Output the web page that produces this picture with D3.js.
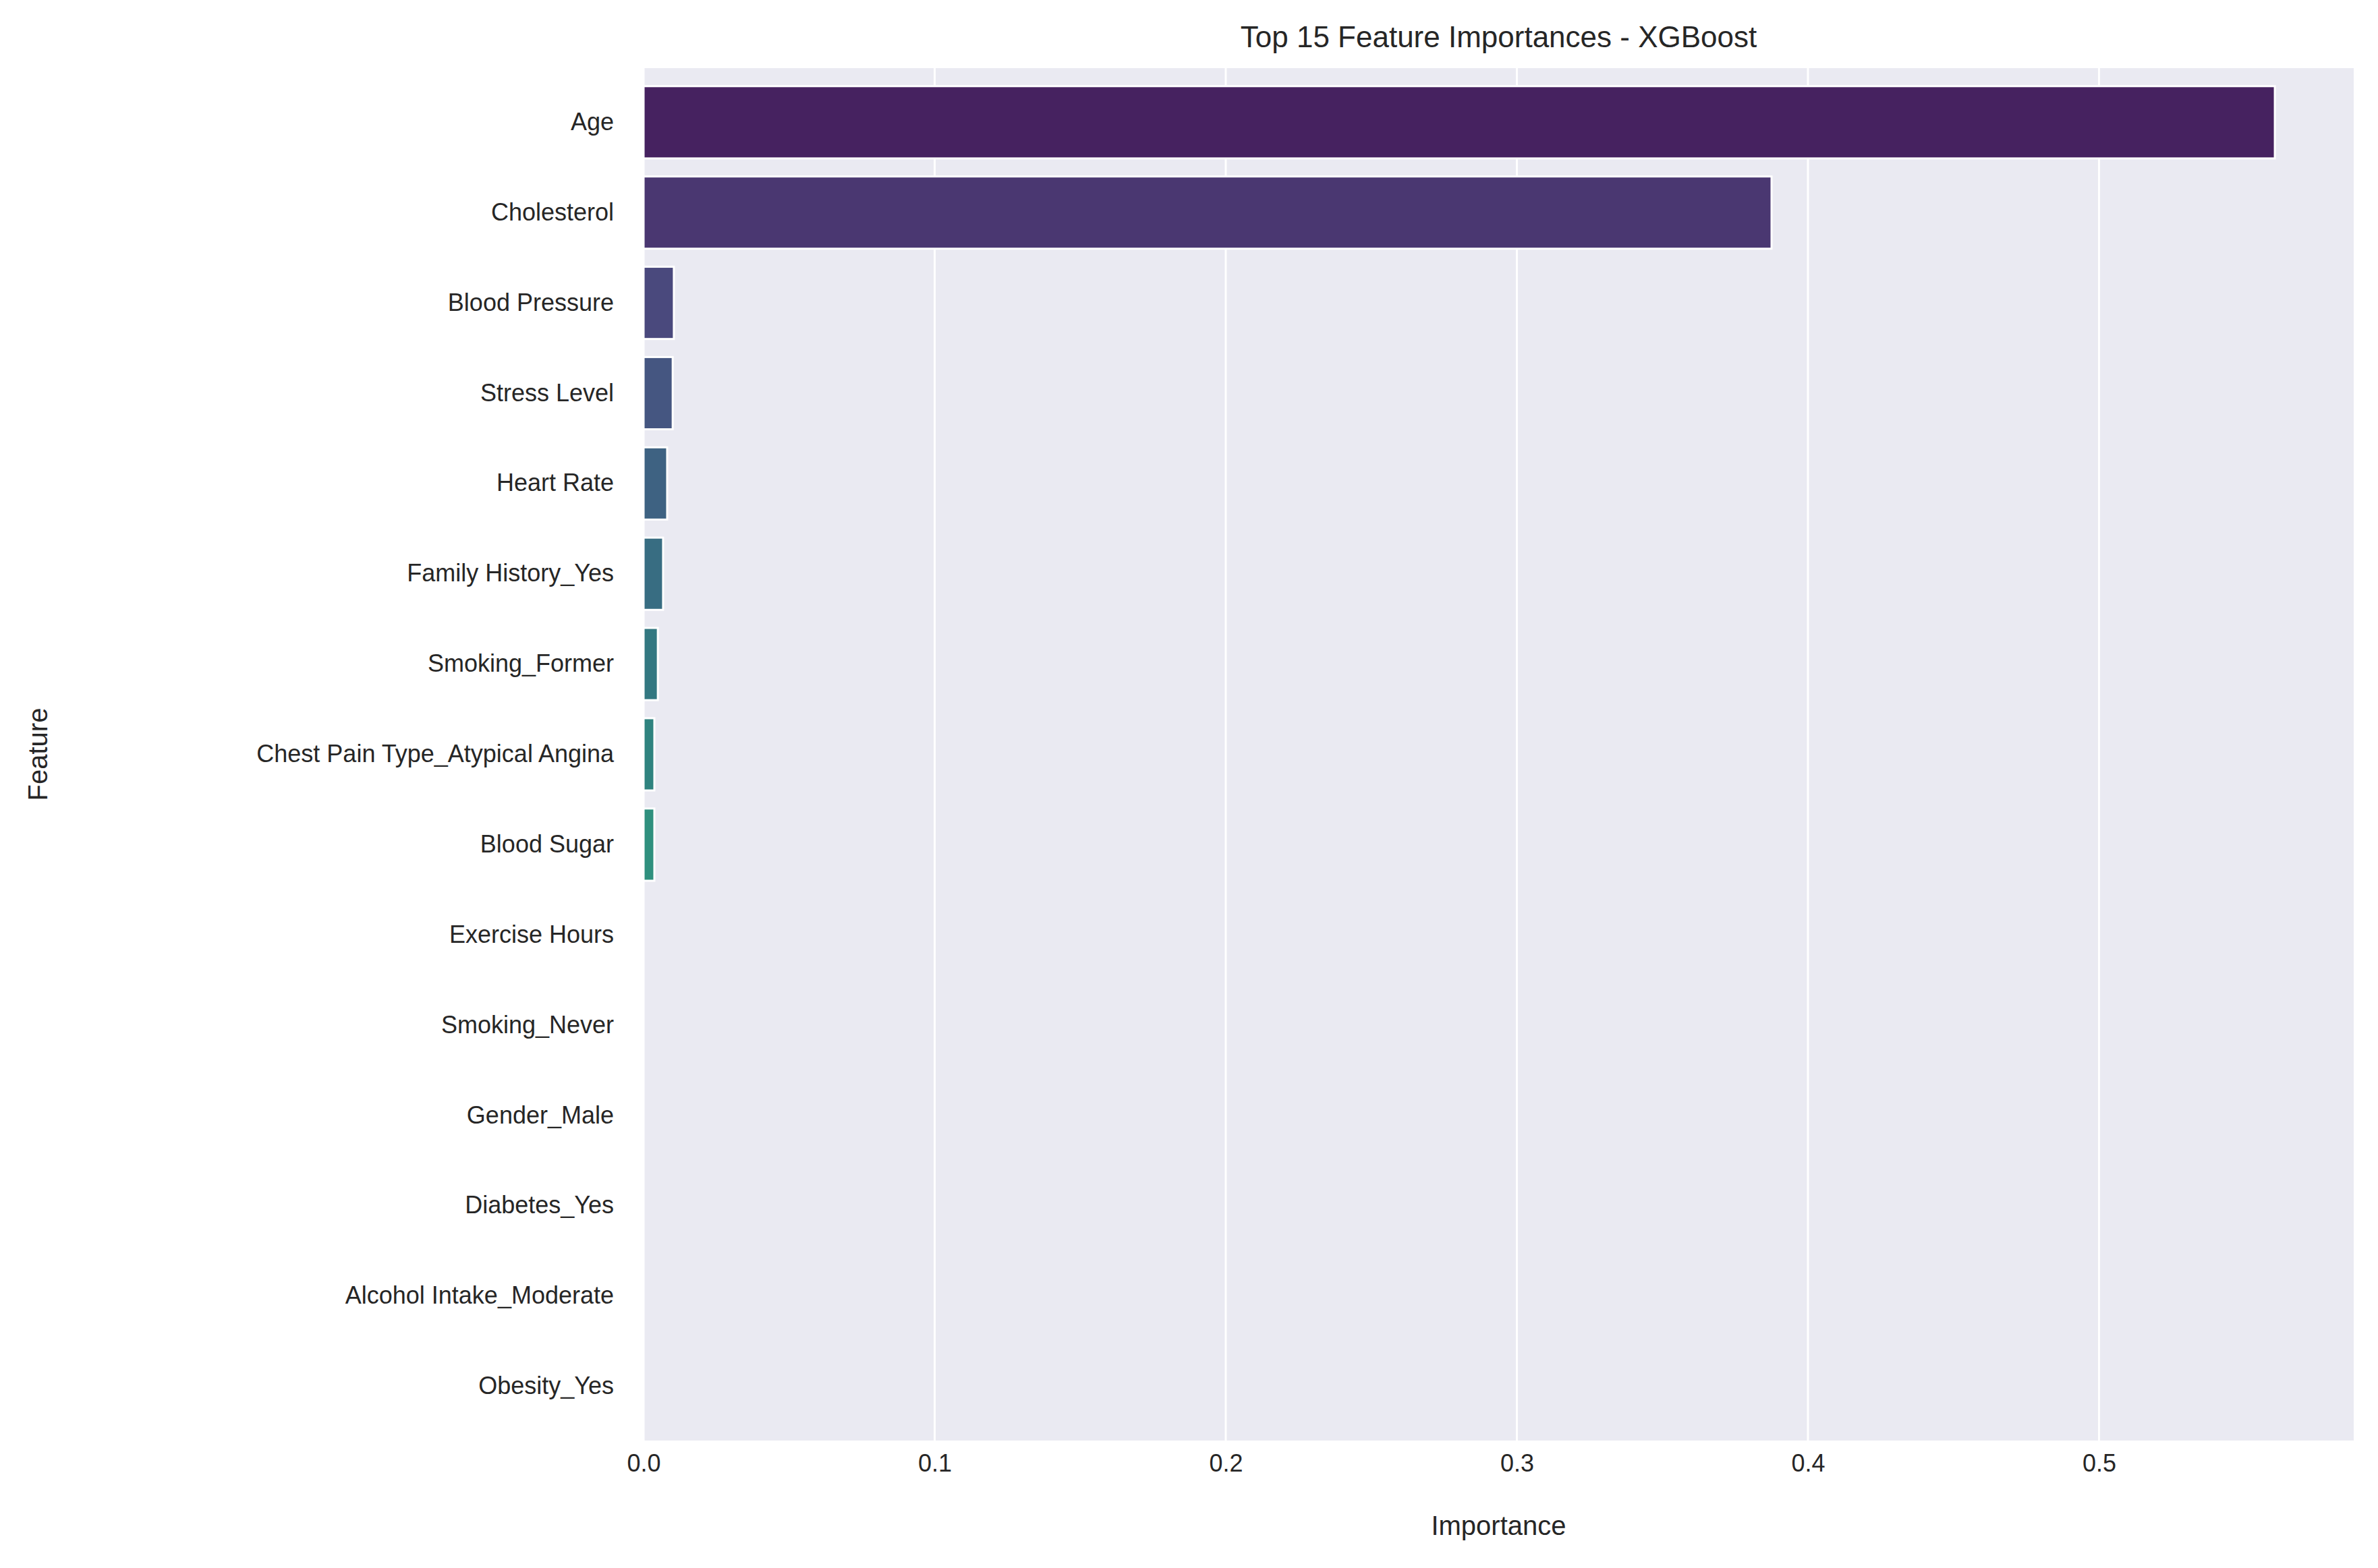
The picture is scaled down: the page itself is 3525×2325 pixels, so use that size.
<!DOCTYPE html>
<html><head><meta charset="utf-8">
<script src="https://cdn.jsdelivr.net/npm/d3@7"></script>
<style>body{margin:0;background:#fff}text{font-family:Arial,"Liberation Sans",sans-serif;fill:#262626}</style>
</head><body>
<svg id="chart" width="3525" height="2325"></svg>
<script>
var features = ["Age","Cholesterol","Blood Pressure","Stress Level","Heart Rate","Family History_Yes","Smoking_Former","Chest Pain Type_Atypical Angina","Blood Sugar","Exercise Hours","Smoking_Never","Gender_Male","Diabetes_Yes","Alcohol Intake_Moderate","Obesity_Yes"];
var importance = [0.5604,0.3875,0.0104,0.0100,0.0081,0.0067,0.0049,0.0037,0.0037,0,0,0,0,0,0];
var xTicks = [0,0.1,0.2,0.3,0.4,0.5];

var svg = d3.select("#chart"),
    margin = { top: 101, right: 36, bottom: 189, left: 954 },
    width = +svg.attr("width") - margin.left - margin.right,
    height = +svg.attr("height") - margin.top - margin.bottom;

var x = d3.scaleLinear().domain([0, 0.5875]).range([0, width]),
    y = d3.scaleBand().domain(features).range([0, height]).padding(0.2);

var g = svg.append("g").attr("transform", "translate(" + margin.left + "," + margin.top + ")");

g.append("rect").attr("width", width).attr("height", height).attr("fill", "#eaeaf2");

// grid
g.selectAll(".grid").data(xTicks).enter().append("line")
    .attr("x1", d => x(d)).attr("x2", d => x(d))
    .attr("y1", 0).attr("y2", height)
    .attr("stroke", "#fff").attr("stroke-width", 3);

// bars (seaborn viridis, saturation 0.75)
function color(i) {
    var c = d3.hsl(d3.interpolateViridis((i + 1) / 16));
    c.s *= 0.75;
    return c + "";
}
g.selectAll(".bar").data(features).enter().append("rect")
    .attr("x", 0)
    .attr("y", d => y(d))
    .attr("width", (d, i) => x(importance[i]))
    .attr("height", y.bandwidth())
    .attr("fill", (d, i) => color(i))
    .attr("stroke", "#fff").attr("stroke-width", importance.map(v => v)[0] ? 3 : 0)
    .attr("display", (d, i) => importance[i] > 0 ? null : "none");

// axes
var xa = g.append("g").attr("transform", "translate(0," + height + ")")
    .call(d3.axisBottom(x).tickValues(xTicks).tickFormat(d3.format(".1f")).tickSize(0).tickPadding(20));
xa.select(".domain").remove();
xa.selectAll("text").attr("font-size", 36).style("font-family", "Arial, 'Liberation Sans', sans-serif").attr("fill", "#262626");

var ya = g.append("g").call(d3.axisLeft(y).tickSize(0).tickPadding(44));
ya.select(".domain").remove();
ya.selectAll("text").attr("font-size", 36).style("font-family", "Arial, 'Liberation Sans', sans-serif").attr("fill", "#262626");

svg.append("text").attr("x", margin.left + width / 2).attr("y", 70)
    .attr("text-anchor", "middle").attr("font-size", 44).text("Top 15 Feature Importances - XGBoost");
svg.append("text").attr("x", margin.left + width / 2).attr("y", 2276)
    .attr("text-anchor", "middle").attr("font-size", 40).text("Importance");
svg.append("text").attr("transform", "translate(70," + (margin.top + height / 2) + ") rotate(-90)")
    .attr("text-anchor", "middle").attr("font-size", 40).text("Feature");
</script>
</body></html>
